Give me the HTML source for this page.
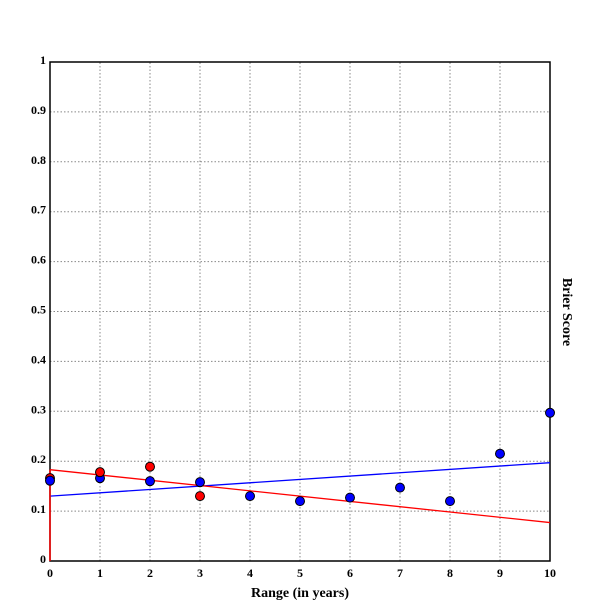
<!DOCTYPE html>
<html><head><meta charset="utf-8"><style>
html,body{margin:0;padding:0;background:#fff;width:612px;height:612px;overflow:hidden;}
svg{display:block;}
text{font-family:"Liberation Serif",serif;font-weight:bold;font-size:12px;fill:#000;}
</style></head><body>
<svg id="chart" width="612" height="612" xmlns="http://www.w3.org/2000/svg">
<g id="grid"></g>
<g id="axes"></g>
<g id="lines"></g>
<g id="points"></g>
<text x="300" y="597" text-anchor="middle" style="font-size:14px">Range (in years)</text>
<text x="563" y="312" text-anchor="middle" transform="rotate(90 563 312)" style="font-size:14px">Brier Score</text>
</svg>
<script>
const xTicks=[0,1,2,3,4,5,6,7,8,9,10];
const yTicks=[0,0.1,0.2,0.3,0.4,0.5,0.6,0.7,0.8,0.9,1];
const yTickLabels=["0","0.1","0.2","0.3","0.4","0.5","0.6","0.7","0.8","0.9","1"];
const blueX=[0,1,2,3,4,5,6,7,8,9,10];
const blueY=[0.161,0.166,0.160,0.158,0.130,0.120,0.127,0.147,0.120,0.215,0.297];
const redX=[0,1,2,3];
const redY=[0.166,0.178,0.189,0.130];
const blueFit=[0.130,0.197];
const redFit=[0.183,0.077];
const NS="http://www.w3.org/2000/svg";
const X=v=>50+v*50, Y=v=>561-v*499;
function mk(tag,attrs,parent){const e=document.createElementNS(NS,tag);for(const k in attrs)e.setAttribute(k,attrs[k]);parent.appendChild(e);return e;}
const grid=document.getElementById('grid'),axes=document.getElementById('axes'),lines=document.getElementById('lines'),pts=document.getElementById('points');
xTicks.forEach(t=>{
 const l=mk('line',{x1:X(t),x2:X(t),y1:Y(0),y2:Y(1),stroke:'#888','stroke-dasharray':'1.5,2'},grid);
 
 
 const tx=mk('text',{x:X(t),y:Y(0)+16,'text-anchor':'middle'},axes);tx.textContent=t;
 
 
});
yTicks.forEach((t,i)=>{
 const l=mk('line',{x1:X(0),x2:X(10),y1:Y(t),y2:Y(t),stroke:'#888','stroke-dasharray':'1.5,2'},grid);
 
 
 const tx=mk('text',{x:X(0)-4,y:Y(t)+2,'text-anchor':'end'},axes);tx.textContent=yTickLabels[i];
 
 
});
const fr=mk('rect',{x:X(0),y:Y(1),width:X(10)-X(0),height:Y(0)-Y(1),fill:'none',stroke:'#000','stroke-width':1.5},axes);


const bl=mk('line',{x1:X(0),y1:Y(blueFit[0]),x2:X(10),y2:Y(blueFit[1]),stroke:'#00f','stroke-width':1.3},lines);


const rl=mk('line',{x1:X(0),y1:Y(redFit[0]),x2:X(10),y2:Y(redFit[1]),stroke:'#f00','stroke-width':1.3},lines);


const rv=mk('line',{x1:X(0),y1:Y(0),x2:X(0),y2:Y(redFit[0]),stroke:'#f00','stroke-width':1.5},lines);


const c0=mk('circle',{cx:X(redX[0]),cy:Y(redY[0]),r:4.5,fill:'#f00',stroke:'#000','stroke-width':1},pts);


blueX.forEach((x,i)=>{
 const c=mk('circle',{cx:X(x),cy:Y(blueY[i]),r:4.5,fill:'#00f',stroke:'#000','stroke-width':1},pts);
 
 
});
redX.forEach((x,i)=>{if(i===0)return;
 const c=mk('circle',{cx:X(x),cy:Y(redY[i]),r:4.5,fill:'#f00',stroke:'#000','stroke-width':1},pts);
 
 
});
</script>
</body></html>
